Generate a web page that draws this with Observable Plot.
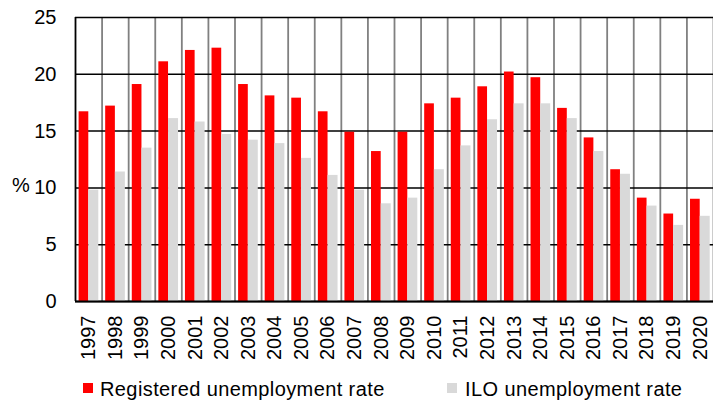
<!DOCTYPE html>
<html>
<head>
<meta charset="utf-8">
<script src="https://cdn.jsdelivr.net/npm/d3@7"></script>
<script src="https://cdn.jsdelivr.net/npm/@observablehq/plot@0.6"></script>
<style>
  html, body { margin: 0; padding: 0; background: #fff; }
  #wrap { position: relative; width: 713px; height: 401px; font-family: "Liberation Sans", Arial, sans-serif; }
  #pct { position: absolute; left: 12px; top: 174px; font-size: 20px; line-height: 22px; color: #000; }
  #legend { position: absolute; left: 0; top: 378px; width: 713px; height: 23px; font-size: 20px; line-height: 22px; color: #000; letter-spacing: 0.4px; }
  .sw { position: absolute; top: 5px; width: 10px; height: 10px; }
  .lt { position: absolute; top: 0; white-space: nowrap; }
</style>
</head>
<body>
<div id="wrap">
  <div id="chart"></div>
  <div id="pct">%</div>
  <div id="legend"></div>
</div>
<script>
const years = ["1997","1998","1999","2000","2001","2002","2003","2004","2005","2006","2007","2008","2009","2010","2011","2012","2013","2014","2015","2016","2017","2018","2019","2020"];
const registered = [16.7,17.2,19.1,21.1,22.1,22.3,19.1,18.1,17.9,16.7,14.9,13.2,14.9,17.4,17.9,18.9,20.2,19.7,17.0,14.4,11.6,9.1,7.7,9.0];
const ilo = [9.8,11.4,13.5,16.1,15.8,14.7,14.2,13.9,12.6,11.1,9.8,8.6,9.1,11.6,13.7,16.0,17.4,17.4,16.1,13.2,11.2,8.4,6.7,7.5];
const seriesNames = ["Registered unemployment rate", "ILO unemployment rate"];
const seriesColors = ["#ff0000", "#d9d9d9"];
const yTicks = [0, 5, 10, 15, 20, 25];

const regData = years.map((y, i) => ({year: y, value: registered[i]}));
const iloData = years.map((y, i) => ({year: y, value: ilo[i]}));

const W = 713, mL = 75, mR = 0;
const band = (W - mL - mR) / years.length;
const half = band / 2;

const chart = Plot.plot({
  width: W,
  height: 370,
  marginLeft: mL,
  marginRight: mR,
  marginTop: 17,
  marginBottom: 69,
  style: {fontFamily: "'Liberation Sans', Arial, sans-serif", fontSize: "20px", color: "#000", background: "#fff"},
  x: {domain: years, padding: 0, round: false, label: null, tickSize: 0, tickPadding: 14, tickRotate: -90},
  y: {domain: [0, 25], ticks: yTicks, label: null, tickSize: 0, tickPadding: 19},
  marks: [
    Plot.ruleX(years, {x: d => d, dx: half, stroke: "#808080", strokeWidth: 1.8}),
    Plot.ruleY(yTicks, {stroke: "#000", strokeWidth: 1.5}),
    Plot.barY(regData, {x: "year", y: "value", fill: seriesColors[0], insetLeft: 3.6, insetRight: half}),
    Plot.barY(iloData, {x: "year", y: "value", fill: seriesColors[1], insetLeft: half, insetRight: 3.3}),
    Plot.ruleX([years[0]], {x: d => d, dx: -half, stroke: "#000", strokeWidth: 1.8}),
    Plot.ruleY([0], {stroke: "#000", strokeWidth: 1.8})
  ]
});
document.getElementById("chart").appendChild(chart);

const legend = document.getElementById("legend");
const legendPos = [{sw: 83, tx: 100}, {sw: 447, tx: 465}];
seriesNames.forEach((name, i) => {
  const s = document.createElement("div");
  s.className = "sw";
  s.style.left = legendPos[i].sw + "px";
  s.style.background = seriesColors[i];
  legend.appendChild(s);
  const t = document.createElement("div");
  t.className = "lt";
  t.style.left = legendPos[i].tx + "px";
  t.textContent = name;
  legend.appendChild(t);
});
</script>
</body>
</html>
